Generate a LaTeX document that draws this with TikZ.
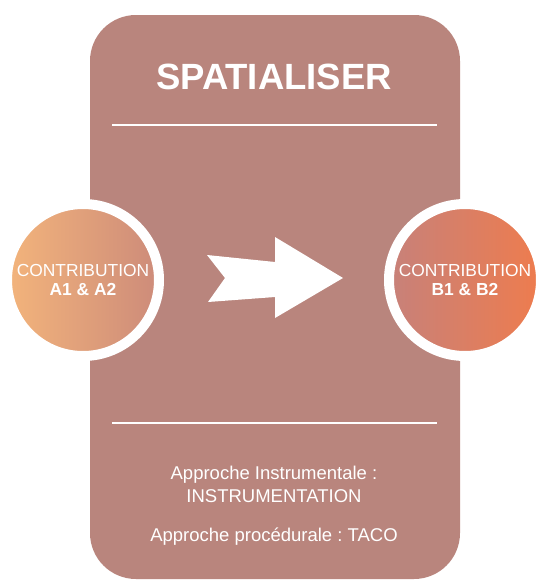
\documentclass[tikz,border=0pt]{standalone}
\usepackage{fontspec}
\setmainfont{Liberation Sans}
\frenchspacing
\definecolor{boxc}{HTML}{B9857D}
\definecolor{aL}{HTML}{F3B47B}
\definecolor{aR}{HTML}{CD8B7A}
\definecolor{bL}{HTML}{C7817A}
\definecolor{bR}{HTML}{EE7C4E}
\tikzset{
  contrib/.style={circle, draw=white, line width=10pt, minimum size=152pt, inner sep=0pt,
    text=white, align=center, font=\fontsize{17.4}{21}\selectfont},
  rule/.style={draw=white, line width=2pt},
  lower/.style={text=white, align=center, font=\fontsize{18.5}{23}\selectfont}
}
\begin{document}
\begin{tikzpicture}[x=1pt,y=-1pt]
\useasboundingbox (0,0) rectangle (536,581);
\fill[white] (0,0) rectangle (536,581);
\fill[boxc, rounded corners=46pt] (90,15) rectangle (460,579);
\node[text=white, font=\bfseries\fontsize{36.5}{40}\selectfont] (title) at (274,77) {SPATIALISER};
\coordinate (r1a) at (112,125); \coordinate (r1b) at (437,125);
\coordinate (r2a) at (112,423); \coordinate (r2b) at (437,423);
\draw[rule] (r1a) -- (r1b);
\draw[rule] (r2a) -- (r2b);
\node[contrib, left color=aL, right color=aR] (ca) at (83,280) {CONTRIBUTION\\[-2pt]\textbf{A1 \& A2}};
\node[contrib, left color=bL, right color=bR] (cb) at (465,280) {CONTRIBUTION\\[-2pt]\textbf{B1 \& B2}};
\fill[white] (207,255) -- (275,262) -- (275,237) -- (343,278) -- (275,318) -- (275,297) -- (208,302) -- (225,278) -- cycle;
\node[lower] (t1) at (274,484) {Approche Instrumentale :\\INSTRUMENTATION};
\node[lower] (t2) at (274,537) {Approche procédurale : TACO};
\end{tikzpicture}
\end{document}
